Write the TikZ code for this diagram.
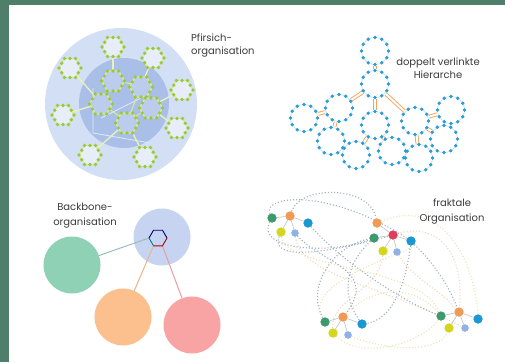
\documentclass[tikz,border=0pt]{standalone}
\usepackage{fontspec}
\setmainfont{Poppins}
\definecolor{frame}{HTML}{4F7E6A}
\definecolor{peachouter}{HTML}{D3DFF4}
\definecolor{peachinner}{HTML}{AABFE8}
\definecolor{peachline}{HTML}{DDE88E}
\definecolor{peachdot}{HTML}{95C843}
\definecolor{hdot}{HTML}{2A9BD5}
\definecolor{hline}{HTML}{C4E2F0}
\definecolor{horange}{HTML}{EFA55E}
\definecolor{bbblue}{HTML}{C6D4F1}
\definecolor{bbgreen}{HTML}{8FD1B5}
\definecolor{bborange}{HTML}{FCC08F}
\definecolor{bbred}{HTML}{F8A4A4}
\definecolor{fgreen}{HTML}{3D9A6C}
\definecolor{forange}{HTML}{F09A55}
\definecolor{fblue}{HTML}{1A98D4}
\definecolor{fyellow}{HTML}{D4D61E}
\definecolor{flblue}{HTML}{90B0E8}
\definecolor{fred}{HTML}{E03F5A}
\definecolor{fgray}{HTML}{A3B2C2}
\definecolor{fpaleyel}{HTML}{E9E6B2}
\definecolor{fpaleorg}{HTML}{F2D8BE}
\definecolor{txt}{HTML}{3C3C3C}
\newcommand{\hexring}[4]{%
  \begin{scope}[shift={(#1,#2)}]
    \draw[peachline, line width=1.3pt, fill=#4] (0:#3) -- (60:#3) -- (120:#3) -- (180:#3) -- (240:#3) -- (300:#3) -- cycle;
    \foreach \a in {0,60,...,300} {
      \fill[peachdot] (\a:#3) circle[radius=1.8];
      \fill[peachdot] (\a+30:#3*0.866) circle[radius=1.8];
    }
  \end{scope}}
\newcommand{\dotring}[1]{%
  \draw[hline, line width=0.7pt] (#1.center) circle[radius=13.5];
  \foreach \a in {0,30,...,330} {\fill[hdot] ([shift={(\a:13.5)}]#1.center) circle[radius=1.9];}}
\begin{document}
\begin{tikzpicture}[x=1pt,y=-1pt,
  lbl/.style={text=txt, font=\fontsize{10}{13}\selectfont, inner sep=0pt},
  hring/.style={circle, minimum size=29pt, inner sep=0pt},
  hedge/.style={draw=horange, double=white, double distance=2pt, line width=0.9pt},
  bbcirc/.style={circle, minimum size=57pt, inner sep=0pt},
  fdot/.style={circle, minimum size=9pt, inner sep=0pt, fill=#1},
  fin/.style={draw=gray!50, line width=0.6pt},
  fl/.style={dotted, line width=1.1pt, draw=fgray},
  fy/.style={dotted, line width=1.1pt, draw=fpaleyel},
  fo/.style={dotted, line width=1.1pt, draw=fpaleorg}]
\useasboundingbox (0,0) rectangle (505,362);
\fill[white] (0,0) rectangle (505,362);
\fill[frame] (0,0) rectangle (9,362);
\fill[frame] (0,0) rectangle (505,5);

% ---------- Pfirsich-organisation ----------
\fill[peachouter] (121,104) circle[radius=76];
\fill[peachinner] (124,103) circle[radius=45];
\draw[white!65!peachinner, line width=0.8pt] (93,88) -- (93,133) -- (150,143);
\draw[white!65!peachinner, line width=0.8pt] (101,118) -- (145,96);
\foreach \a/\b/\c/\d in {113/47/113/80, 153/58/141/86, 70/68/101/103, 182/90/150/107,
  63/115/101/103, 177/128/150/107, 90/155/127/122, 145/157/127/122}
  {\draw[peachline!60!white, line width=1.3pt] (\a,\b) -- (\c,\d);}
\foreach \a/\b/\c/\d in {113/80/141/86, 113/80/101/103, 141/86/150/107, 101/103/127/122, 150/107/127/122, 141/86/127/122}
  {\draw[peachline, line width=1pt] (\a,\b) -- (\c,\d);}
\foreach \x/\y in {113/47, 153/58, 70/68, 182/90, 63/115, 177/128, 90/155, 145/157}
  {\hexring{\x}{\y}{11}{white!45!peachouter}}
\foreach \x/\y in {113/81, 141/87, 101/104, 151/108, 127/123}
  {\hexring{\x}{\y}{11.5}{peachinner!80!white}}

% ---------- doppelt verlinkte Hierarche ----------
\node[hring] (h1) at (375,51) {};
\node[hring] (h2) at (375,84) {};
\node[hring] (h3) at (339,108) {};
\node[hring] (h4) at (375,125) {};
\node[hring] (h5) at (415,121) {};
\node[hring] (h6) at (304,118) {};
\node[hring] (h7) at (331,141) {};
\node[hring] (h8) at (356,155) {};
\node[hring] (h9) at (392,151) {};
\node[hring] (h10) at (419,158) {};
\node[hring] (h11) at (451,110) {};
\node[hring] (h12) at (444,139) {};
\foreach \p/\q in {h1/h2, h2/h3, h2/h4, h2/h5, h3/h6, h3/h7, h4/h8, h4/h9, h5/h11, h5/h12, h5/h10}
  {\draw[hedge] (\p) -- (\q);}
\foreach \n in {h1,h2,h3,h4,h5,h6,h7,h8,h9,h10,h11,h12} {\dotring{\n}}

% ---------- Backbone-organisation ----------
\node[bbcirc, fill=bbblue] (bb) at (162,237) {};
\node[bbcirc, fill=bbgreen] (bg) at (72,265) {};
\node[bbcirc, fill=bborange] (bo) at (123,317) {};
\node[bbcirc, fill=bbred] (br) at (192,325) {};
\coordinate (hx0) at (167,238);
\coordinate (hx1) at (162.5,230.2);
\coordinate (hx2) at (153.5,230.2);
\coordinate (hx3) at (149,238);
\coordinate (hx4) at (153.5,245.8);
\coordinate (hx5) at (162.5,245.8);
\draw[fgray!60!bbgreen, line width=1pt] (hx3) -- (bg);
\draw[bborange!85!gray, line width=1pt] (hx4) -- (bo);
\draw[bbred!85!gray, line width=1pt] (hx5) -- (br);
\draw[line width=0.9pt, draw=blue!45!black] (hx0) -- (hx1) -- (hx2) -- (hx3);
\draw[line width=0.9pt, draw=teal] (hx3) -- (hx4);
\draw[line width=0.9pt, draw=red!70!black] (hx4) -- (hx5) -- (hx0);

% ---------- fraktale Organisation ----------
\node[fdot=forange] (ao) at (290,216) {};
\node[fdot=fgreen] (ag) at (272,218) {};
\node[fdot=fblue] (ab) at (308,223) {};
\node[fdot=fyellow] (ay) at (281,232) {};
\node[fdot=flblue, minimum size=7pt] (al) at (295,233) {};
\node[fdot=fred] (bR) at (393,235) {};
\node[fdot=forange] (bO) at (377,223) {};
\node[fdot=fgreen] (bG) at (374,238) {};
\node[fdot=fblue] (bB) at (411,241) {};
\node[fdot=fyellow] (bY) at (383,251) {};
\node[fdot=flblue, minimum size=7pt] (bL) at (397,252) {};
\node[fdot=forange] (co) at (343,317) {};
\node[fdot=fgreen] (cg) at (325,322) {};
\node[fdot=fblue] (cb) at (362,324) {};
\node[fdot=fyellow] (cy) at (333,333) {};
\node[fdot=flblue, minimum size=7pt] (cl) at (348,335) {};
\node[fdot=forange] (do) at (459,312) {};
\node[fdot=fgreen] (dg) at (441,316) {};
\node[fdot=fblue] (db) at (478,319) {};
\node[fdot=fyellow] (dy) at (449,328) {};
\node[fdot=flblue, minimum size=7pt] (dl) at (465,328) {};

% pale curves
\draw[fy] (ay) .. controls (285,270) and (420,265) .. (dg);
\draw[fy] (bO) .. controls (445,195) and (475,265) .. (db);
\draw[fy] (co) .. controls (380,280) and (420,290) .. (dg);
\draw[fy] (cl) .. controls (390,352) and (440,352) .. (dy);
\draw[fo] (al) .. controls (300,275) and (380,285) .. (dl);
\draw[fo] (bY) .. controls (380,290) and (330,300) .. (cy);
\draw[fy] (cg) .. controls (300,280) and (420,250) .. (bB);
\draw[fo] (bR) .. controls (435,222) and (465,250) .. (do);
\draw[fy] (cy) .. controls (360,360) and (420,345) .. (dg);
\draw[fo] (bL) .. controls (420,290) and (470,300) .. (dy);
% gray dotted curves
\draw[fl] (ao) .. controls (300,185) and (370,185) .. (bO);
\draw[fl] (ag) .. controls (255,250) and (330,255) .. (bG);
\draw[fl] (ab) .. controls (340,260) and (400,300) .. (dg);
\draw[fl] (bB) .. controls (440,270) and (450,290) .. (do);
\draw[fl] (bG) .. controls (340,270) and (345,300) .. (cb);
\draw[fl] (bB) .. controls (405,290) and (390,320) .. (cb);
\draw[fl] (cg) .. controls (305,285) and (335,245) .. (bG);
\draw[fl] (ay) .. controls (270,260) and (320,255) .. (bR);
\draw[fl] (ag) .. controls (262,195) and (330,188) .. (bB);
\draw[fl] (al) .. controls (320,262) and (380,270) .. (co);
% in-cluster lines
\foreach \p/\q in {ao/ag, ao/ab, ao/ay, ao/al, bR/bO, bR/bG, bR/bB, bR/bY, bR/bL, co/cg, co/cb, co/cy, co/cl, do/dg, do/db, do/dy, do/dl}
  {\draw[fin] (\p) -- (\q);}
\foreach \n/\k in {ao/forange, ag/fgreen, ab/fblue, ay/fyellow, bR/fred, bO/forange, bG/fgreen, bB/fblue, bY/fyellow, co/forange, cg/fgreen, cb/fblue, cy/fyellow, do/forange, dg/fgreen, db/fblue, dy/fyellow}
  {\fill[\k] (\n.center) circle[radius=4.5];}
\foreach \n in {al, bL, cl, dl}
  {\fill[flblue] (\n.center) circle[radius=3.7];}

% ---------- labels ----------
\node[lbl, anchor=north west, align=left] (tp) at (191,34) {Pfirsich-\\organisation};
\node[lbl, align=center] (th) at (438,68) {doppelt verlinkte\\Hierarche};
\node[lbl, align=center, font=\fontsize{10}{15}\selectfont] (tb) at (85,216) {Backbone-\\organisation};
\node[lbl, align=center, font=\fontsize{10}{15}\selectfont] (tf) at (452,212) {fraktale\\Organisation};
\end{tikzpicture}
\end{document}
